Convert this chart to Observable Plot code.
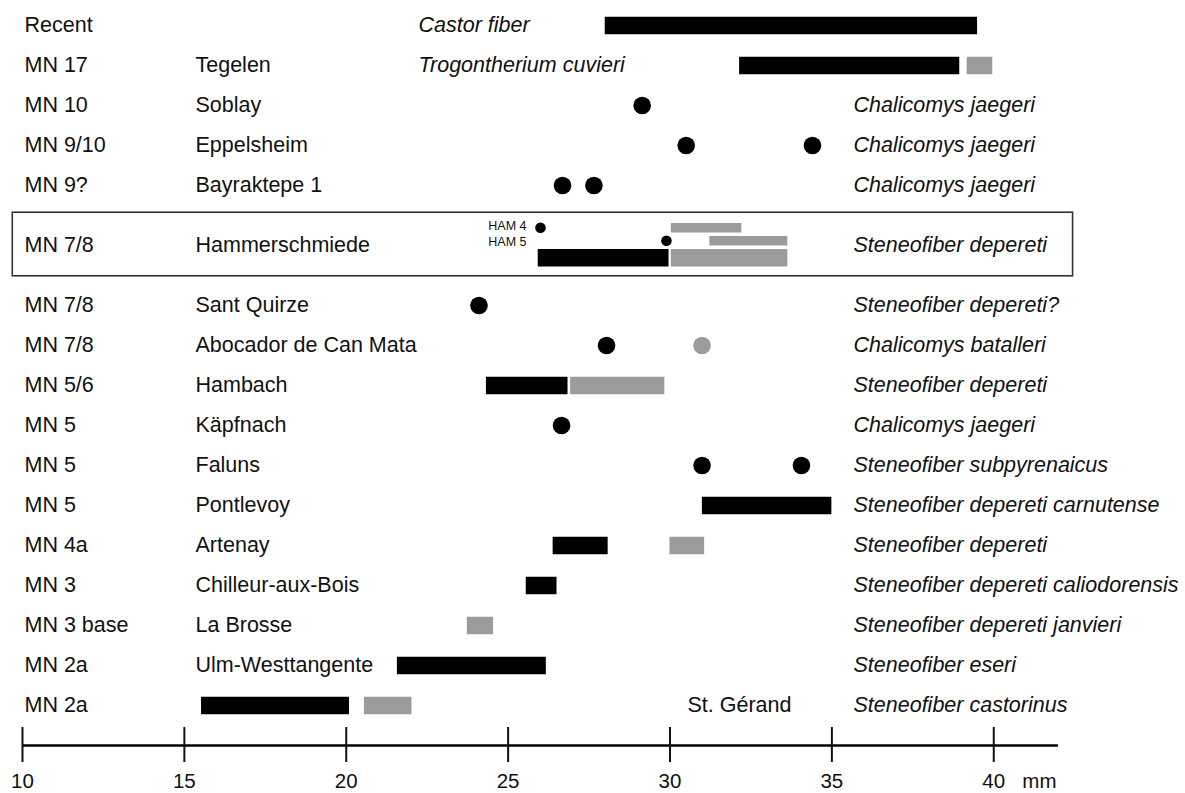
<!DOCTYPE html>
<html><head><meta charset="utf-8">
<script src="https://cdn.jsdelivr.net/npm/d3@7"></script>
<script src="https://cdn.jsdelivr.net/npm/@observablehq/plot@0.6"></script>
<style>
html,body{margin:0;padding:0;background:#fff;}
#chart svg{display:block;}
</style></head><body><div id="chart"></div>
<script>
// ---------- data ----------
const zones = ["Recent","MN 17","MN 10","MN 9/10","MN 9?","MN 7/8","MN 7/8","MN 7/8","MN 5/6","MN 5","MN 5","MN 5","MN 4a","MN 3","MN 3 base","MN 2a","MN 2a"];
const localities = ["","Tegelen","Soblay","Eppelsheim","Bayraktepe 1","Hammerschmiede","Sant Quirze","Abocador de Can Mata","Hambach","Käpfnach","Faluns","Pontlevoy","Artenay","Chilleur-aux-Bois","La Brosse","Ulm-Westtangente",""];
const species = ["Castor fiber","Trogontherium cuvieri","Chalicomys jaegeri","Chalicomys jaegeri","Chalicomys jaegeri","Steneofiber depereti","Steneofiber depereti?","Chalicomys batalleri","Steneofiber depereti","Chalicomys jaegeri","Steneofiber subpyrenaicus","Steneofiber depereti carnutense","Steneofiber depereti","Steneofiber depereti caliodorensis","Steneofiber depereti janvieri","Steneofiber eseri","Steneofiber castorinus"];
const blackBars = [
  {row:0, from:28.0, to:39.5},
  {row:1, from:32.15, to:38.95},
  {row:5, from:25.93, to:29.97},
  {row:8, from:24.33, to:26.85},
  {row:11, from:31.0, to:35.0},
  {row:12, from:26.39, to:28.09},
  {row:13, from:25.56, to:26.51},
  {row:15, from:21.58, to:26.18},
  {row:16, from:15.53, to:20.1}
];
const grayBars = [
  {row:1, from:39.18, to:39.97},
  {row:5, from:30.04, to:33.64},
  {row:8, from:26.93, to:29.84},
  {row:12, from:30.0, to:31.07},
  {row:14, from:23.74, to:24.55},
  {row:16, from:20.56, to:22.03}
];
const hamSamples = ["HAM 4","HAM 5"];
const hamGrayBars = [{sample:"HAM 4", from:30.04, to:32.22},{sample:"HAM 5", from:31.23, to:33.64}];
const hamDots = [{sample:"HAM 4", value:26.0},{sample:"HAM 5", value:29.89}];
const blackDots = [
  {row:2, value:29.14},
  {row:3, value:30.5},{row:3, value:34.4},
  {row:4, value:26.68},{row:4, value:27.65},
  {row:6, value:24.1},
  {row:7, value:28.04},
  {row:9, value:26.65},
  {row:10, value:30.99},{row:10, value:34.06}
];
const grayDots = [{row:7, value:30.99}];
const tickValues = [10,15,20,25,30,35,40];
const unitLabel = "mm";
const siteNotes = [{row:16, text:"St. Gérand"}];

// ---------- layout ----------
const W = 1185, H = 793;
const xDomain = [10, 42];
const HAM = 5, GAP = 0.48;
const STEP0 = 0.04; // slight extra offset applied to rows below the box
const pos = i => i + (i >= HAM ? GAP : 0) + (i > HAM ? GAP + STEP0 : 0);
const sampleShift = {"HAM 4": -0.425, "HAM 5": -0.1};
const barShift = r => r === HAM ? 0.325 : 0;
const axisPos = 18;
const rows = zones.map((z, i) => ({i, zone: z, locality: localities[i], species: species[i], y: pos(i)}));
const BLACK = "#000", GRAY = "#9b9b9b", INK = "#111";
const FONT = "'Liberation Sans', Arimo, Arial, Helvetica, sans-serif";
const FS = 21.5;

const plot = Plot.plot({
  width: W, height: H,
  marginLeft: 22, marginRight: 127, marginTop: 25, marginBottom: 48,
  style: {fontFamily: FONT, fontSize: FS + "px", color: INK, background: "#fff", overflow: "visible"},
  x: {domain: xDomain, axis: null},
  y: {domain: [0, axisPos], reverse: true, axis: null},
  marks: [
    // Hammerschmiede box
    Plot.rect([HAM], {x1: xDomain[0] - 0.3, x2: xDomain[1] + 0.45, y1: d => pos(d) - 0.8, y2: d => pos(d) + 0.79,
      fill: "none", stroke: "#333", strokeWidth: 1.6}),
    // bars
    Plot.ruleY(blackBars, {y: d => pos(d.row) + barShift(d.row), x1: "from", x2: "to", stroke: BLACK, strokeWidth: 17.5}),
    Plot.ruleY(grayBars, {y: d => pos(d.row) + barShift(d.row), x1: "from", x2: "to", stroke: GRAY, strokeWidth: 17.5}),
    Plot.ruleY(hamGrayBars, {y: d => pos(HAM) + sampleShift[d.sample], x1: "from", x2: "to", stroke: GRAY, strokeWidth: 9.5}),
    // dots
    Plot.dot(blackDots, {x: "value", y: d => pos(d.row), r: 8.8, fill: BLACK, stroke: null}),
    Plot.dot(grayDots, {x: "value", y: d => pos(d.row), r: 8.8, fill: GRAY, stroke: null}),
    Plot.dot(hamDots, {x: "value", y: d => pos(HAM) + sampleShift[d.sample], r: 5.3, fill: BLACK, stroke: null}),
    // row texts
    Plot.text(rows, {y: "y", text: "zone", frameAnchor: "left", dx: 2, textAnchor: "start", fontSize: FS, fill: INK}),
    Plot.text(rows, {y: "y", text: "locality", frameAnchor: "left", dx: 173, textAnchor: "start", fontSize: FS, fill: INK}),
    Plot.text(rows.filter(d => d.i < 2), {y: "y", text: "species", frameAnchor: "left", dx: 396, textAnchor: "start", fontSize: FS, fontStyle: "italic", fill: INK}),
    Plot.text(rows.filter(d => d.i >= 2), {y: "y", text: "species", frameAnchor: "left", dx: 831, textAnchor: "start", fontSize: FS, fontStyle: "italic", fill: INK}),
    Plot.text(hamSamples.slice(0, 1), {y: s => pos(HAM) + sampleShift[s], text: d => d, frameAnchor: "left", dx: 504, dy: -1.5, textAnchor: "end", fontSize: 12.5, fill: INK}),
    Plot.text(hamSamples.slice(1), {y: s => pos(HAM) + sampleShift[s], text: d => d, frameAnchor: "left", dx: 504, dy: 1, textAnchor: "end", fontSize: 12.5, fill: INK}),
    Plot.text(siteNotes, {y: d => pos(d.row), text: "text", frameAnchor: "left", dx: 665, textAnchor: "start", fontSize: FS, fill: INK}),
    // x axis
    Plot.ruleY([axisPos], {x1: xDomain[0], x2: xDomain[1], stroke: BLACK, strokeWidth: 2.5}),
    Plot.axisX(tickValues, {anchor: "bottom", tickSize: 35, dy: -18, tickPadding: 11, fontSize: 20.5, strokeWidth: 2, label: null, tickFormat: d => String(d), fill: INK}),
    Plot.text([unitLabel], {frameAnchor: "bottom-right", dx: -2, dy: 35.5, textAnchor: "end", lineAnchor: "middle", fontSize: 20.5, fill: INK})
  ]
});
document.getElementById("chart").appendChild(plot);
</script>
</body></html>
